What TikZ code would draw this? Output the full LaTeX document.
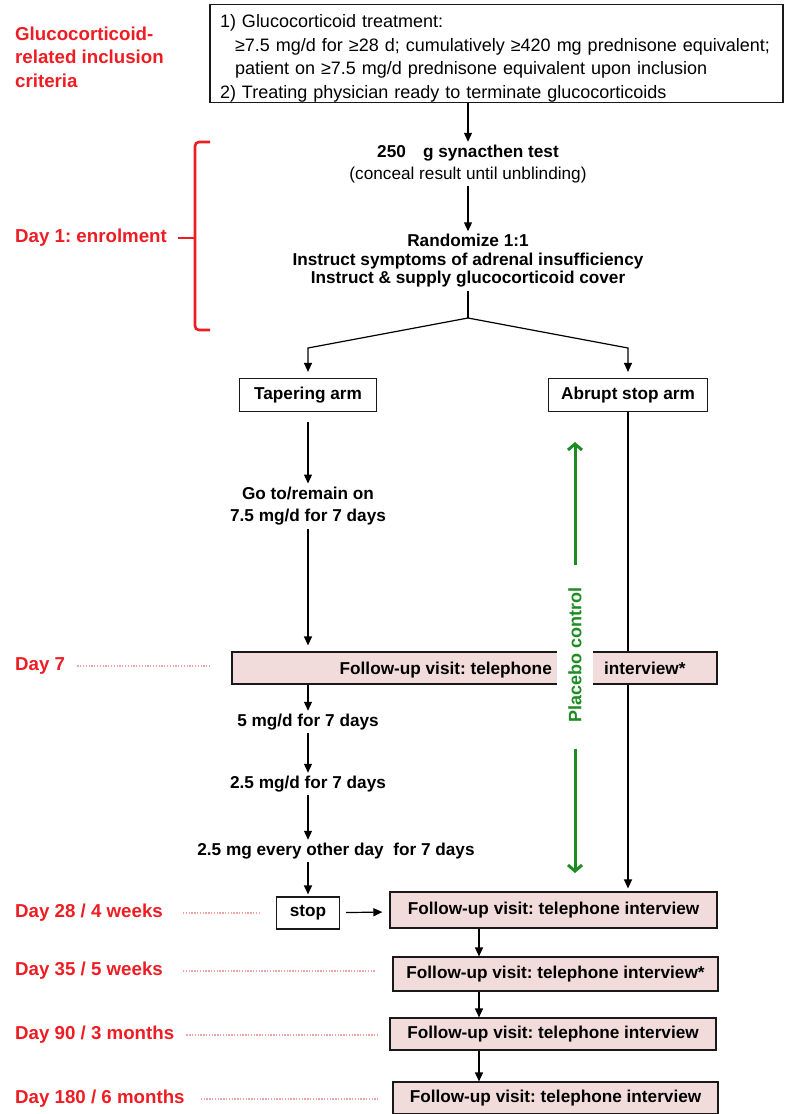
\documentclass[tikz,border=0pt]{standalone}
\usepackage{fontspec}
\setmainfont{Liberation Sans}
\usepackage{tikz}
\usetikzlibrary{arrows.meta,positioning,backgrounds}
\definecolor{dayred}{HTML}{EE1D23}
\definecolor{visitpink}{HTML}{F2DCDB}
\definecolor{rulepink}{HTML}{EBA3A3}
\definecolor{pcgreen}{HTML}{1E8C23}
\newcommand{\flowfont}{\fontsize{17.2}{18.5}\selectfont}
\newcommand{\dayfont}{\fontsize{18.7}{23.5}\selectfont}
\frenchspacing

\begin{document}
\begin{tikzpicture}[x=1pt, y=-1pt,
  box/.style={draw=black!90, line width=1.2pt, inner sep=0pt, align=center},
  critbox/.style={box, align=left, inner xsep=10pt, text width=553pt,
    minimum height=97pt, font=\fontsize{18}{23.5}\selectfont},
  armbox/.style={box, font=\flowfont\bfseries, minimum height=33pt},
  visit/.style={box, fill=visitpink, font=\flowfont\bfseries,
    text height=12.5pt, text depth=3.5pt},
  visittext/.style={inner sep=0pt, font=\flowfont\bfseries},
  plain/.style={align=center, inner sep=3pt, font=\flowfont\bfseries},
  daylabel/.style={text=dayred, anchor=west, inner sep=0pt, font=\dayfont\bfseries},
  ruler/.style={rulepink, line width=1.7pt, dash pattern=on 1.3pt off 1.5pt},
  bracket/.style={dayred, line width=2.6pt, rounded corners=4pt},
  flow/.style={-{Triangle[length=9pt,width=8pt]}, line width=1.2pt},
  pcarrow/.style={-{Straight Barb[length=6pt,width=14pt]}, line width=3pt, pcgreen},
  pclabel/.style={rotate=90, text=pcgreen, fill=white, inner xsep=0pt,
    inner ysep=11pt, font=\fontsize{18}{20}\selectfont\bfseries}
]
\useasboundingbox (0,0) rectangle (785,1114);

% inclusion criteria
\node[daylabel, align=left] (critlabel) at (15,57)
  {Glucocorticoid-\\related inclusion\\criteria};
\node[critbox] (criteria) at (496.5,53.5) {\rule{0pt}{23pt}1) Glucocorticoid treatment:\\
  \hspace*{15pt}≥7.5 mg/d for ≥28 d; cumulatively ≥420 mg prednisone equivalent;\\
  \hspace*{15pt}patient on ≥7.5 mg/d prednisone equivalent upon inclusion\\
  2) Treating physician ready to terminate glucocorticoids};

% day 1
\node[plain, font=\fontsize{17.2}{22}\selectfont] (synacthen) at (468,164)
  {\textbf{250\hspace{1em}g synacthen test}\\(conceal result until unblinding)};
\node[plain] (randomize) at (468,261) {Randomize 1:1\\
  Instruct symptoms of adrenal insufficiency\\Instruct \& supply glucocorticoid cover};
\coordinate (fork) at (468,318);
\coordinate (forkleft) at (308,348);
\coordinate (forkright) at (628,348);
\node[armbox, minimum width=137pt] (taper) at (308,395) {Tapering arm};
\node[armbox, minimum width=159pt] (abrupt) at (628,395) {Abrupt stop arm};

% tapering schedule
\node[plain, font=\fontsize{17.2}{22.5}\selectfont\bfseries] (goto) at (308,506)
  {Go to/remain on\\7.5 mg/d for 7 days};
\node[visit, minimum width=485pt, minimum height=32pt] (visit7) at (474.5,668) {};
\node[visittext, anchor=base east] (visit7a) at (552,674) {Follow-up visit: telephone};
\node[visittext, anchor=base west] (visit7b) at (604,674) {interview*};
\node[plain] (fivemg) at (308,722) {5 mg/d for 7 days};
\node[plain] (twomg) at (308,784) {2.5 mg/d for 7 days};
\node[plain] (everyother) at (336,851) {2.5 mg every other day\ \ for 7 days};
\node[armbox, minimum width=63pt, minimum height=32pt] (stop) at (308,913) {stop};

% follow-up visits
\node[visit, minimum width=327pt, minimum height=36pt] (visit28) at (553.5,910)
  {Follow-up visit: telephone interview};
\node[visit, minimum width=325pt, minimum height=34pt] (visit35) at (555.5,974)
  {Follow-up visit: telephone interview*};
\node[visit, minimum width=326pt, minimum height=32pt] (visit90) at (553,1034)
  {Follow-up visit: telephone interview};
\node[visit, minimum width=325pt, minimum height=32pt] (visit180) at (555.5,1098)
  {Follow-up visit: telephone interview};
\coordinate (visitcol) at (479,0);

% placebo control
\node[pclabel] (placebo) at (575,655) {Placebo control};
\coordinate (pctop) at (575,442);
\coordinate (pcbottom) at (575,873);

% time line
\node[daylabel] (day1) at (15,238) {Day 1: enrolment};
\node[daylabel] (day7) at (15,666) {Day 7};
\node[daylabel] (day28) at (15,913) {Day 28 / 4 weeks};
\node[daylabel] (day35) at (15,971) {Day 35 / 5 weeks};
\node[daylabel] (day90) at (15,1035) {Day 90 / 3 months};
\node[daylabel] (day180) at (15,1099) {Day 180 / 6 months};
\coordinate (bracemid) at (195,238);

\draw[bracket] (210,142) -- (195,142) -- (195,330) -- (210,330);
\draw[bracket, shorten <=11pt] (day1.east) -- (bracemid);
\draw[ruler, shorten <=12pt, shorten >=22pt] (day7.east) -- (day7.east -| visit7.west);
\draw[ruler, shorten <=20pt, shorten >=17pt] (day28.east) -- (day28.east -| stop.west);
\draw[ruler, shorten <=20pt, shorten >=17pt] (day35.east) -- (day35.east -| visit35.west);
\draw[ruler, shorten <=12pt, shorten >=12pt] (day90.east) -- (day90.east -| visit90.west);
\draw[ruler, shorten <=16pt, shorten >=15pt] (day180.east) -- (day180.east -| visit180.west);

\draw[flow] (criteria.south -| synacthen) -- (synacthen);
\draw[flow] (synacthen) -- (randomize);
\draw[line width=1.2pt] (randomize) -- (fork);
\draw[flow, shorten >=6pt] (fork) -- (forkleft) -- (taper.north);
\draw[flow, shorten >=6pt] (fork) -- (forkright) -- (abrupt.north);
\draw[flow, shorten <=10pt] (taper) -- (goto);
\draw[flow, shorten >=6pt] (goto) -- (goto |- visit7.north);
\draw[flow] (visit7.south -| fivemg) -- (fivemg);
\draw[flow] (fivemg) -- (twomg);
\draw[flow] (twomg) -- (twomg |- everyother.north);
\draw[flow, shorten >=2pt] (everyother.south -| stop) -- (stop);
\draw[flow, shorten <=6pt, shorten >=7pt] (stop) -- (visit28);
\begin{scope}[on background layer]
\draw[flow, shorten >=3pt] (abrupt) -- (abrupt |- visit28.north);
\end{scope}
\draw[flow] (visit28.south -| visitcol) -- (visit35.north -| visitcol);
\draw[flow] (visit35.south -| visitcol) -- (visit90.north -| visitcol);
\draw[flow] (visit90.south -| visitcol) -- (visit180.north -| visitcol);

\draw[pcarrow, shorten <=22pt] (placebo.east) -- (pctop);
\draw[pcarrow, shorten <=26pt] (placebo.west) -- (pcbottom);
\end{tikzpicture}
\end{document}
